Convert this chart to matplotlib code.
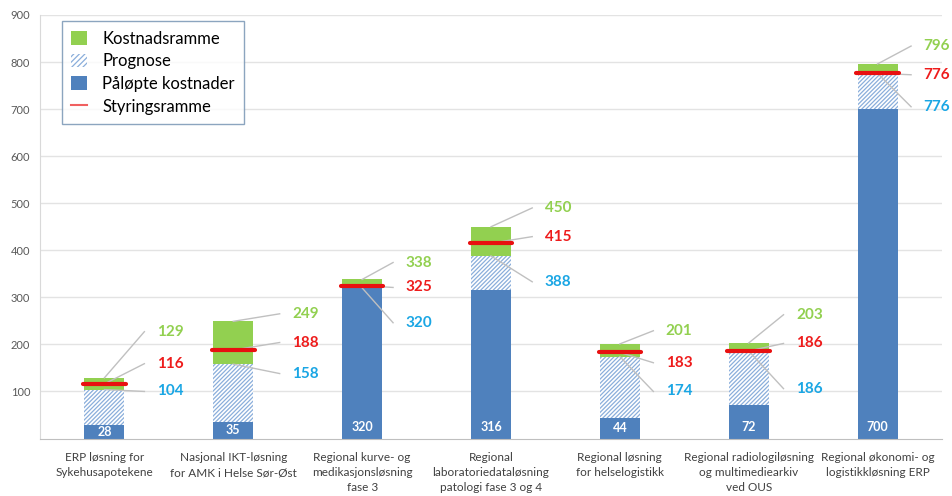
import numpy as np
import matplotlib
matplotlib.use("Agg")
import matplotlib.pyplot as plt
from matplotlib.patches import Patch
from matplotlib.lines import Line2D

plt.rcParams['font.family'] = ['Lato', 'DejaVu Sans']
plt.rcParams['hatch.linewidth'] = 0.9

# data (MNOK)
categories = [
    "ERP løsning for\nSykehusapotekene",
    "Nasjonal IKT-løsning\nfor AMK i Helse Sør-Øst",
    "Regional kurve- og\nmedikasjonsløsning\nfase 3",
    "Regional\nlaboratoriedataløsning\npatologi fase 3 og 4",
    "Regional løsning\nfor helselogistikk",
    "Regional radiologiløsning\nog multimediearkiv\nved OUS",
    "Regional økonomi- og\nlogistikkløsning ERP",
]
paalopt = [28, 35, 320, 316, 44, 72, 700]          # Påløpte kostnader
prognose = [104, 158, 320, 388, 174, 186, 776]      # Prognose
kostnadsramme = [129, 249, 338, 450, 201, 203, 796] # Kostnadsramme
styringsramme = [116, 188, 325, 415, 183, 186, 776] # Styringsramme

# label placement (layout only)
label_dx = [0.51, 0.56, 0.44, 0.52, 0.46, 0.47, 0.46]
green_label_y = [227, 265, 374, 490, 229, 263, 834]
red_label_y = [159, 204, 321, 429, 161, 202, 773]
blue_label_y = [100, 138, 246, 333, 100, 106, 705]

c_blue = '#4f81bd'
c_green = '#92d050'
c_hatch = '#8aaedb'
c_red = '#e81010'
c_lbl_green = '#92d050'
c_lbl_red = '#ee1c1c'
c_lbl_blue = '#1aa6e4'
c_lead = '#c0c0c0'

x = np.arange(len(categories))
w = 0.31
paalopt = np.array(paalopt)
prognose = np.array(prognose)
kostnadsramme = np.array(kostnadsramme)
styringsramme = np.array(styringsramme)

fig = plt.figure(figsize=(9.53, 4.96), dpi=100)
ax = fig.add_axes([40 / 953, 57.5 / 496, 902 / 953, 423.5 / 496])

ax.bar(x, paalopt, w, color=c_blue, zorder=2)
ax.bar(x, prognose - paalopt, w, bottom=paalopt, color='white',
       edgecolor=c_hatch, hatch='////////', linewidth=0, zorder=2)
ax.bar(x, kostnadsramme - prognose, w, bottom=prognose, color=c_green, zorder=2)
for xi, v in zip(x, styringsramme):
    ax.plot([xi - w / 2 - 0.01, xi + w / 2 + 0.01], [v, v], color=c_red, lw=3,
            solid_capstyle='round', zorder=4)

# leader lines and value labels
for i, xi in enumerate(x):
    lx = xi + label_dx[i]
    for val, ly, col in [(kostnadsramme[i], green_label_y[i], c_lbl_green),
                         (styringsramme[i], red_label_y[i], c_lbl_red),
                         (prognose[i], blue_label_y[i], c_lbl_blue)]:
        ax.plot([xi, lx - 0.2], [val, ly], color=c_lead, lw=1, zorder=3)
        ax.text(lx, ly, str(val), color=col, fontsize=11, fontweight='bold',
                ha='center', va='center', clip_on=False, zorder=5)
    ax.text(xi, min(paalopt[i] / 2, 25), str(paalopt[i]), color='white',
            fontsize=9, fontweight='bold', ha='center', va='center', zorder=5)

ax.set_xlim(-0.5, len(categories) - 0.5)
ax.set_ylim(0, 900)
ax.set_yticks(range(100, 1000, 100))
ax.set_xticks(x)
ax.set_xticklabels(categories, fontsize=8.5, color='#404040', linespacing=1.45)
ax.tick_params(axis='x', length=0, pad=10)
ax.tick_params(axis='y', length=0, pad=7, labelsize=8, labelcolor='#595959')
ax.grid(axis='y', color='#e3e3e3', lw=1, zorder=0)
ax.set_axisbelow(True)
for s in ['top', 'right']:
    ax.spines[s].set_visible(False)
ax.spines['left'].set_color('#d9d9d9')
ax.spines['bottom'].set_color('#bfbfbf')

handles = [
    Patch(facecolor=c_green, edgecolor='none'),
    Patch(facecolor='white', edgecolor=c_hatch, hatch='//////', linewidth=0),
    Patch(facecolor=c_blue, edgecolor='none'),
    Line2D([0], [0], color='#f06060', lw=1.5),
]
leg = ax.legend(handles, ['Kostnadsramme', 'Prognose', 'Påløpte kostnader', 'Styringsramme'],
                loc='upper left', bbox_to_anchor=(0.024, 0.985), borderaxespad=0,
                fontsize=12, frameon=True, fancybox=False, labelspacing=0.4,
                handlelength=1.0, handleheight=0.9, handletextpad=0.9,
                borderpad=0.55)
leg.get_frame().set_edgecolor('#6f8fb0')
leg.get_frame().set_linewidth(1)

fig.savefig('out.png', dpi=100)
